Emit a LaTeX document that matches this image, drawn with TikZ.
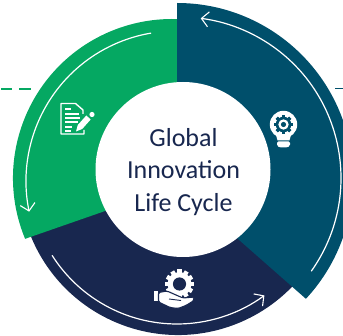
\documentclass[tikz,border=0pt]{standalone}
\usepackage{fontspec}
\setmainfont{Carlito}
\usetikzlibrary{arrows.meta}
\definecolor{ggreen}{HTML}{05A862}
\definecolor{tteal}{HTML}{004F6B}
\definecolor{nnavy}{HTML}{18274F}
\tikzset{
  flow/.style={white,line width=1.2pt,line cap=round},
  flowhead/.style={-{Straight Barb[length=7pt,width=15pt,line width=1.1pt]}},
  ico/.style={fill=white,draw=none},
  icoline/.style={white,line width=1.4pt}
}
\begin{document}
\begin{tikzpicture}[x=1pt,y=1pt]
\useasboundingbox (0,-336) rectangle (343,0);
\clip (0,-336) rectangle (343,0);
% dashes
\draw[ggreen,line width=1.3pt] (1,-89) -- (12,-89) (19,-89) -- (31,-89);
\draw[tteal,line width=1.3pt] (335,-88.5) -- (343,-88.5);
% sectors
\fill[nnavy] (180,-190) -- ([shift={(178,-176)}]200:159pt) arc[start angle=200,end angle=318,radius=159pt] -- cycle;
\fill[ggreen] (177,-186) -- ([shift={(172,-178)}]202.5:159pt) arc[start angle=202.5,end angle=85,radius=159pt] -- cycle;
\fill[tteal] (177,-82) -- (177,-3) arc[start angle=90,end angle=-42.9,radius=176pt] -- (205,-210) -- (177,-190) -- cycle;
\node[circle,fill=white,minimum size=175pt,inner sep=0pt] (hub) at (183,-169.5) {};
% flow arrows
\draw[flow,flowhead] ([shift={(180,-178)}]-35.3:161pt) arc[start angle=-35.3,end angle=82.6,radius=161pt];
\draw[flow,flowhead] ([shift={(176,-181)}]99.7:150pt) arc[start angle=99.7,end angle=191.8,radius=150pt];
\draw[flow,flowhead] ([shift={(177,-176)}]212.5:148pt) arc[start angle=212.5,end angle=306.2,radius=148pt];
% text
\node[text=nnavy,font=\fontsize{26}{32.5}\selectfont,align=center,inner sep=0pt] (title) at (183.5,-172) {Global\\Innovation\\Life Cycle};
% bulb icon
\fill[ico] (283.5,-124.5) circle[radius=13.7pt];
\fill[ico] (276,-135) -- (291,-135) -- (289.5,-140.3) -- (277.5,-140.3) -- cycle;
\fill[ico,rounded corners=1.5pt] (277,-141.5) -- (290,-141.5) -- (290,-146) -- (287,-147.5) -- (280,-147.5) -- (277,-146) -- cycle;
\foreach \a in {0,45,...,315}{\fill[tteal,rotate around={\a:(283.5,-124.5)}] (282,-134) rectangle (285,-115);}
\fill[tteal] (283.5,-124.5) circle[radius=7.8pt];
\fill[white] (283.5,-124.5) circle[radius=5.2pt];
\fill[tteal] (283.5,-124.5) circle[radius=2.6pt];
% gear and hand icon
\foreach \a in {0,30,...,150}{\fill[ico,rotate around={\a:(179.5,-284)}] (177.3,-269.5) rectangle (181.7,-298.5);}
\fill[ico] (179.5,-284) circle[radius=12pt];
\fill[nnavy] (179.5,-284) circle[radius=6.6pt];
\fill[ico] (154.3,-291) rectangle (157.8,-301);
\path[ico,draw=nnavy,line width=1.1pt,rounded corners=1.5pt] (158.5,-292.5) -- (167,-291) -- (176,-295) -- (183,-298) -- (194,-297) -- (194,-300.5) -- (186,-305.5) -- (178,-308.5) -- (170,-307.5) -- (158.5,-302) -- cycle;
\draw[nnavy,line width=0.9pt] (169,-299) -- (181,-300.5);
% document icon
\draw[icoline,line join=round] (83,-114) -- (83,-110) -- (75.5,-103.5) -- (61,-103.5) -- (61,-134) -- (84,-134) -- (84,-130);
\draw[icoline] (65,-109) -- (71,-109) (65,-114) -- (79,-114) (65,-118) -- (80,-118) (65,-122) -- (78,-122) (65,-127) -- (72,-127) (65,-131) -- (71,-131);
\fill[ico] (92,-114.5) circle[radius=2.6pt];
\fill[ico] (90.7,-119.5) -- (86.3,-115.5) -- (77.8,-125) -- (76,-131.5) -- (82.2,-129) -- cycle;
\end{tikzpicture}
\end{document}
